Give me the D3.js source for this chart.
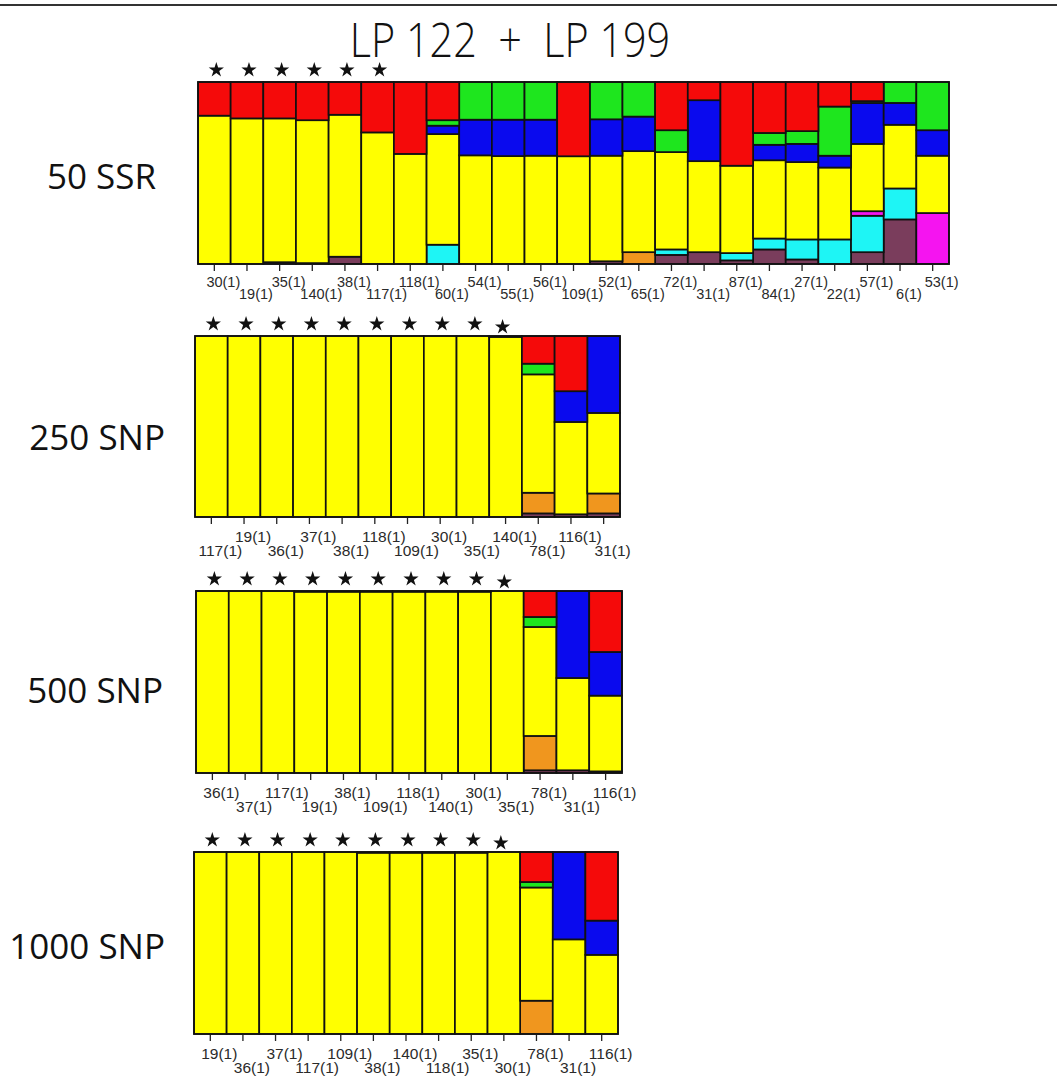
<!DOCTYPE html>
<html>
<head>
<meta charset="utf-8">
<script src="https://cdn.jsdelivr.net/npm/d3@7"></script>
<style>
  html, body { margin: 0; padding: 0; background: #fff; }
  svg { display: block; }
</style>
</head>
<body>
<svg id="chart" width="1057" height="1083"></svg>
<script>
// Cluster order, bottom to top of every bar
const clusters = ["mauve", "orange", "cyan", "magenta", "yellow", "blue", "green", "red"];
const clusterColors = ["#7a3d5c", "#f0961e", "#1ef5f5", "#f514f0", "#ffff00", "#0a0aee", "#1ee61e", "#f50a0a"];

// 50 SSR: membership per individual (mauve, orange, cyan, magenta, yellow, blue, green, red)
const ssrLabels = ["30(1)", "19(1)", "35(1)", "140(1)", "38(1)", "117(1)", "118(1)", "60(1)", "54(1)", "55(1)", "56(1)", "109(1)",
  "52(1)", "65(1)", "72(1)", "31(1)", "87(1)", "84(1)", "27(1)", "22(1)", "57(1)", "6(1)", "53(1)"];
const ssrQ = [
  [0, 0, 0, 0, 0.815, 0, 0, 0.185],
  [0, 0, 0, 0, 0.80, 0, 0, 0.20],
  [0.01, 0, 0, 0, 0.79, 0, 0, 0.20],
  [0.005, 0, 0, 0, 0.785, 0, 0, 0.21],
  [0.04, 0, 0, 0, 0.78, 0, 0, 0.18],
  [0, 0, 0, 0, 0.723, 0, 0, 0.277],
  [0, 0, 0, 0, 0.605, 0, 0, 0.395],
  [0, 0, 0.106, 0, 0.608, 0.046, 0.03, 0.21],
  [0, 0, 0, 0, 0.597, 0.196, 0.207, 0],
  [0, 0, 0, 0, 0.593, 0.20, 0.207, 0],
  [0, 0, 0, 0, 0.595, 0.198, 0.207, 0],
  [0, 0, 0, 0, 0.592, 0, 0, 0.408],
  [0.015, 0, 0, 0, 0.58, 0.20, 0.205, 0],
  [0, 0.065, 0, 0, 0.555, 0.19, 0.19, 0],
  [0.05, 0, 0.03, 0, 0.535, 0, 0.12, 0.265],
  [0.065, 0, 0, 0, 0.50, 0.335, 0, 0.10],
  [0.02, 0, 0.04, 0, 0.48, 0, 0, 0.46],
  [0.08, 0, 0.06, 0, 0.43, 0.085, 0.065, 0.28],
  [0.025, 0, 0.11, 0, 0.425, 0.10, 0.07, 0.27],
  [0, 0, 0.135, 0, 0.395, 0.065, 0.27, 0.135],
  [0.065, 0, 0.20, 0.025, 0.37, 0.225, 0.01, 0.105],
  [0.245, 0, 0.17, 0, 0.35, 0.12, 0.115, 0],
  [0, 0, 0, 0.28, 0.315, 0.14, 0.265, 0]
];

// 250 SNP
const snp250Labels = ["117(1)", "19(1)", "36(1)", "37(1)", "38(1)", "118(1)", "109(1)", "30(1)", "35(1)", "140(1)", "78(1)", "116(1)", "31(1)"];
const snp250Q = [
  [0, 0, 0, 0, 1, 0, 0, 0],
  [0, 0, 0, 0, 1, 0, 0, 0],
  [0, 0, 0, 0, 1, 0, 0, 0],
  [0, 0, 0, 0, 1, 0, 0, 0],
  [0, 0, 0, 0, 1, 0, 0, 0],
  [0, 0, 0, 0, 1, 0, 0, 0],
  [0, 0, 0, 0, 1, 0, 0, 0],
  [0, 0, 0, 0, 1, 0, 0, 0],
  [0, 0, 0, 0, 1, 0, 0, 0],
  [0, 0, 0, 0, 0.995, 0, 0, 0.005],
  [0.02, 0.114, 0, 0, 0.654, 0, 0.059, 0.153],
  [0.015, 0, 0, 0, 0.51, 0.17, 0, 0.305],
  [0.02, 0.11, 0, 0, 0.445, 0.425, 0, 0]
];

// 500 SNP
const snp500Labels = ["36(1)", "37(1)", "117(1)", "19(1)", "38(1)", "109(1)", "118(1)", "140(1)", "30(1)", "35(1)", "78(1)", "31(1)", "116(1)"];
const snp500Q = [
  [0, 0, 0, 0, 1, 0, 0, 0],
  [0, 0, 0, 0, 1, 0, 0, 0],
  [0, 0, 0, 0, 1, 0, 0, 0],
  [0, 0, 0, 0, 0.996, 0, 0, 0.004],
  [0, 0, 0, 0, 0.996, 0, 0, 0.004],
  [0, 0, 0, 0, 0.996, 0, 0, 0.004],
  [0, 0, 0, 0, 0.996, 0, 0, 0.004],
  [0, 0, 0, 0, 0.996, 0, 0, 0.004],
  [0, 0, 0, 0, 0.996, 0, 0, 0.004],
  [0, 0, 0, 0, 1, 0, 0, 0],
  [0.015, 0.189, 0, 0, 0.60, 0, 0.055, 0.143],
  [0.015, 0, 0, 0, 0.507, 0.478, 0, 0],
  [0.009, 0, 0, 0, 0.416, 0.24, 0, 0.335]
];

// 1000 SNP
const snp1000Labels = ["19(1)", "36(1)", "37(1)", "117(1)", "109(1)", "38(1)", "140(1)", "118(1)", "35(1)", "30(1)", "78(1)", "31(1)", "116(1)"];
const snp1000Q = [
  [0, 0, 0, 0, 1, 0, 0, 0],
  [0, 0, 0, 0, 1, 0, 0, 0],
  [0, 0, 0, 0, 1, 0, 0, 0],
  [0, 0, 0, 0, 1, 0, 0, 0],
  [0, 0, 0, 0, 1, 0, 0, 0],
  [0, 0, 0, 0, 0.996, 0, 0, 0.004],
  [0, 0, 0, 0, 0.996, 0, 0, 0.004],
  [0, 0, 0, 0, 0.996, 0, 0, 0.004],
  [0, 0, 0, 0, 0.996, 0, 0, 0.004],
  [0, 0, 0, 0, 1, 0, 0, 0],
  [0, 0.183, 0, 0, 0.622, 0, 0.03, 0.165],
  [0, 0, 0, 0, 0.52, 0.48, 0, 0],
  [0, 0, 0, 0, 0.435, 0.188, 0, 0.377]
];

// Number of starred individuals at the left of each panel
const starCounts = [6, 10, 10, 10];
const panelNames = ["50 SSR", "250 SNP", "500 SNP", "1000 SNP"];
const titleText = "LP 122  +  LP 199";

// Layout of each panel
const panels = [
  { name: panelNames[0], labels: ssrLabels, q: ssrQ, stars: starCounts[0], x0: 198, x1: 949, y0: 82, y1: 264, nameX: 156, nameY: 189, upperFirst: true, row1: 23, row2: 35, fs: 14.5 },
  { name: panelNames[1], labels: snp250Labels, q: snp250Q, stars: starCounts[1], x0: 195, x1: 620, y0: 336, y1: 517, nameX: 165, nameY: 450, upperFirst: false, row1: 25, row2: 39, fs: 15.5 },
  { name: panelNames[2], labels: snp500Labels, q: snp500Q, stars: starCounts[2], x0: 196, x1: 622, y0: 591, y1: 773, nameX: 163, nameY: 703, upperFirst: true, row1: 25, row2: 39, fs: 15.5 },
  { name: panelNames[3], labels: snp1000Labels, q: snp1000Q, stars: starCounts[3], x0: 194, x1: 618, y0: 852, y1: 1034, nameX: 165, nameY: 959, upperFirst: true, row1: 25, row2: 39, fs: 15.5 }
];

const svg = d3.select("#chart");
const color = d3.scaleOrdinal().domain(clusters).range(clusterColors);

// Rule across the top of the figure
svg.append("line")
  .attr("x1", 0).attr("x2", 1057).attr("y1", 5).attr("y2", 5)
  .attr("stroke", "#333").attr("stroke-width", 2);

// Title, set in a tall condensed face
svg.append("text")
  .attr("transform", "translate(510,57) scale(0.88,1)")
  .attr("text-anchor", "middle")
  .attr("font-family", "'Open Sans', 'Noto Sans', sans-serif")
  .attr("font-weight", 300)
  .attr("font-size", 47)
  .attr("fill", "#111")
  .style("white-space", "pre")
  .text(titleText);

const stack = d3.stack()
  .keys(d3.range(clusters.length))
  .order(d3.stackOrderNone)
  .offset(d3.stackOffsetExpand);

panels.forEach(p => {
  const g = svg.append("g");
  const x = d3.scaleBand().domain(d3.range(p.labels.length)).range([p.x0, p.x1]).padding(0);
  const y = d3.scaleLinear().domain([0, 1]).range([p.y1, p.y0]);

  const series = stack(p.q);

  // Stacked membership bars
  g.selectAll("g.layer")
    .data(series)
    .join("g")
    .attr("class", "layer")
    .attr("fill", s => color(clusters[s.key]))
    .selectAll("rect")
    .data(s => s.map((d, i) => ({ d, i })).filter(o => o.d[1] - o.d[0] > 0))
    .join("rect")
    .attr("x", o => x(o.i))
    .attr("width", x.bandwidth())
    .attr("y", o => y(o.d[1]))
    .attr("height", o => y(o.d[0]) - y(o.d[1]))
    .attr("stroke", "#111")
    .attr("stroke-width", 1.7);

  // Frame
  g.append("rect")
    .attr("x", p.x0).attr("y", p.y0)
    .attr("width", p.x1 - p.x0).attr("height", p.y1 - p.y0)
    .attr("fill", "none").attr("stroke", "#111").attr("stroke-width", 1.5);

  // Ticks under each bar
  const axis = d3.axisBottom(x).tickSize(6).tickPadding(0).tickFormat("");
  const ag = g.append("g")
    .attr("transform", `translate(0,${p.y1 + 1})`)
    .call(axis);
  ag.select(".domain").remove();
  ag.selectAll(".tick line").attr("stroke", "#222").attr("stroke-width", 1.3);

  // Individual labels on two staggered rows
  g.selectAll("text.lab")
    .data(p.labels)
    .join("text")
    .attr("class", "lab")
    .attr("x", (d, i) => x(i) + x.bandwidth() / 2 + 9)
    .attr("y", (d, i) => {
      const upper = (i % 2 === 0) === p.upperFirst;
      return p.y1 + (upper ? p.row1 : p.row2);
    })
    .attr("text-anchor", "middle")
    .attr("font-family", "'Liberation Sans', Arial, sans-serif")
    .attr("font-size", p.fs)
    .attr("fill", "#2a2a2a")
    .text(d => d);

  // Stars above marked individuals
  const starSym = d3.symbol().type(d3.symbolStar).size(72);
  g.selectAll("path.star")
    .data(d3.range(p.stars))
    .join("path")
    .attr("class", "star")
    .attr("transform", i => {
      const last = p.stars === 10 && i === 9;
      return `translate(${x(i) + x.bandwidth() / 2 + (last ? -3 : 2)},${p.y0 - 12 + (last ? 3 : 0)})`;
    })
    .attr("d", starSym)
    .attr("fill", "#111");

  // Panel name
  svg.append("text")
    .attr("x", p.nameX).attr("y", p.nameY)
    .attr("text-anchor", "end")
    .attr("font-family", "'Open Sans', 'Noto Sans', sans-serif")
    .attr("font-size", 35)
    .attr("fill", "#111")
    .text(p.name);
});
</script>
</body>
</html>
